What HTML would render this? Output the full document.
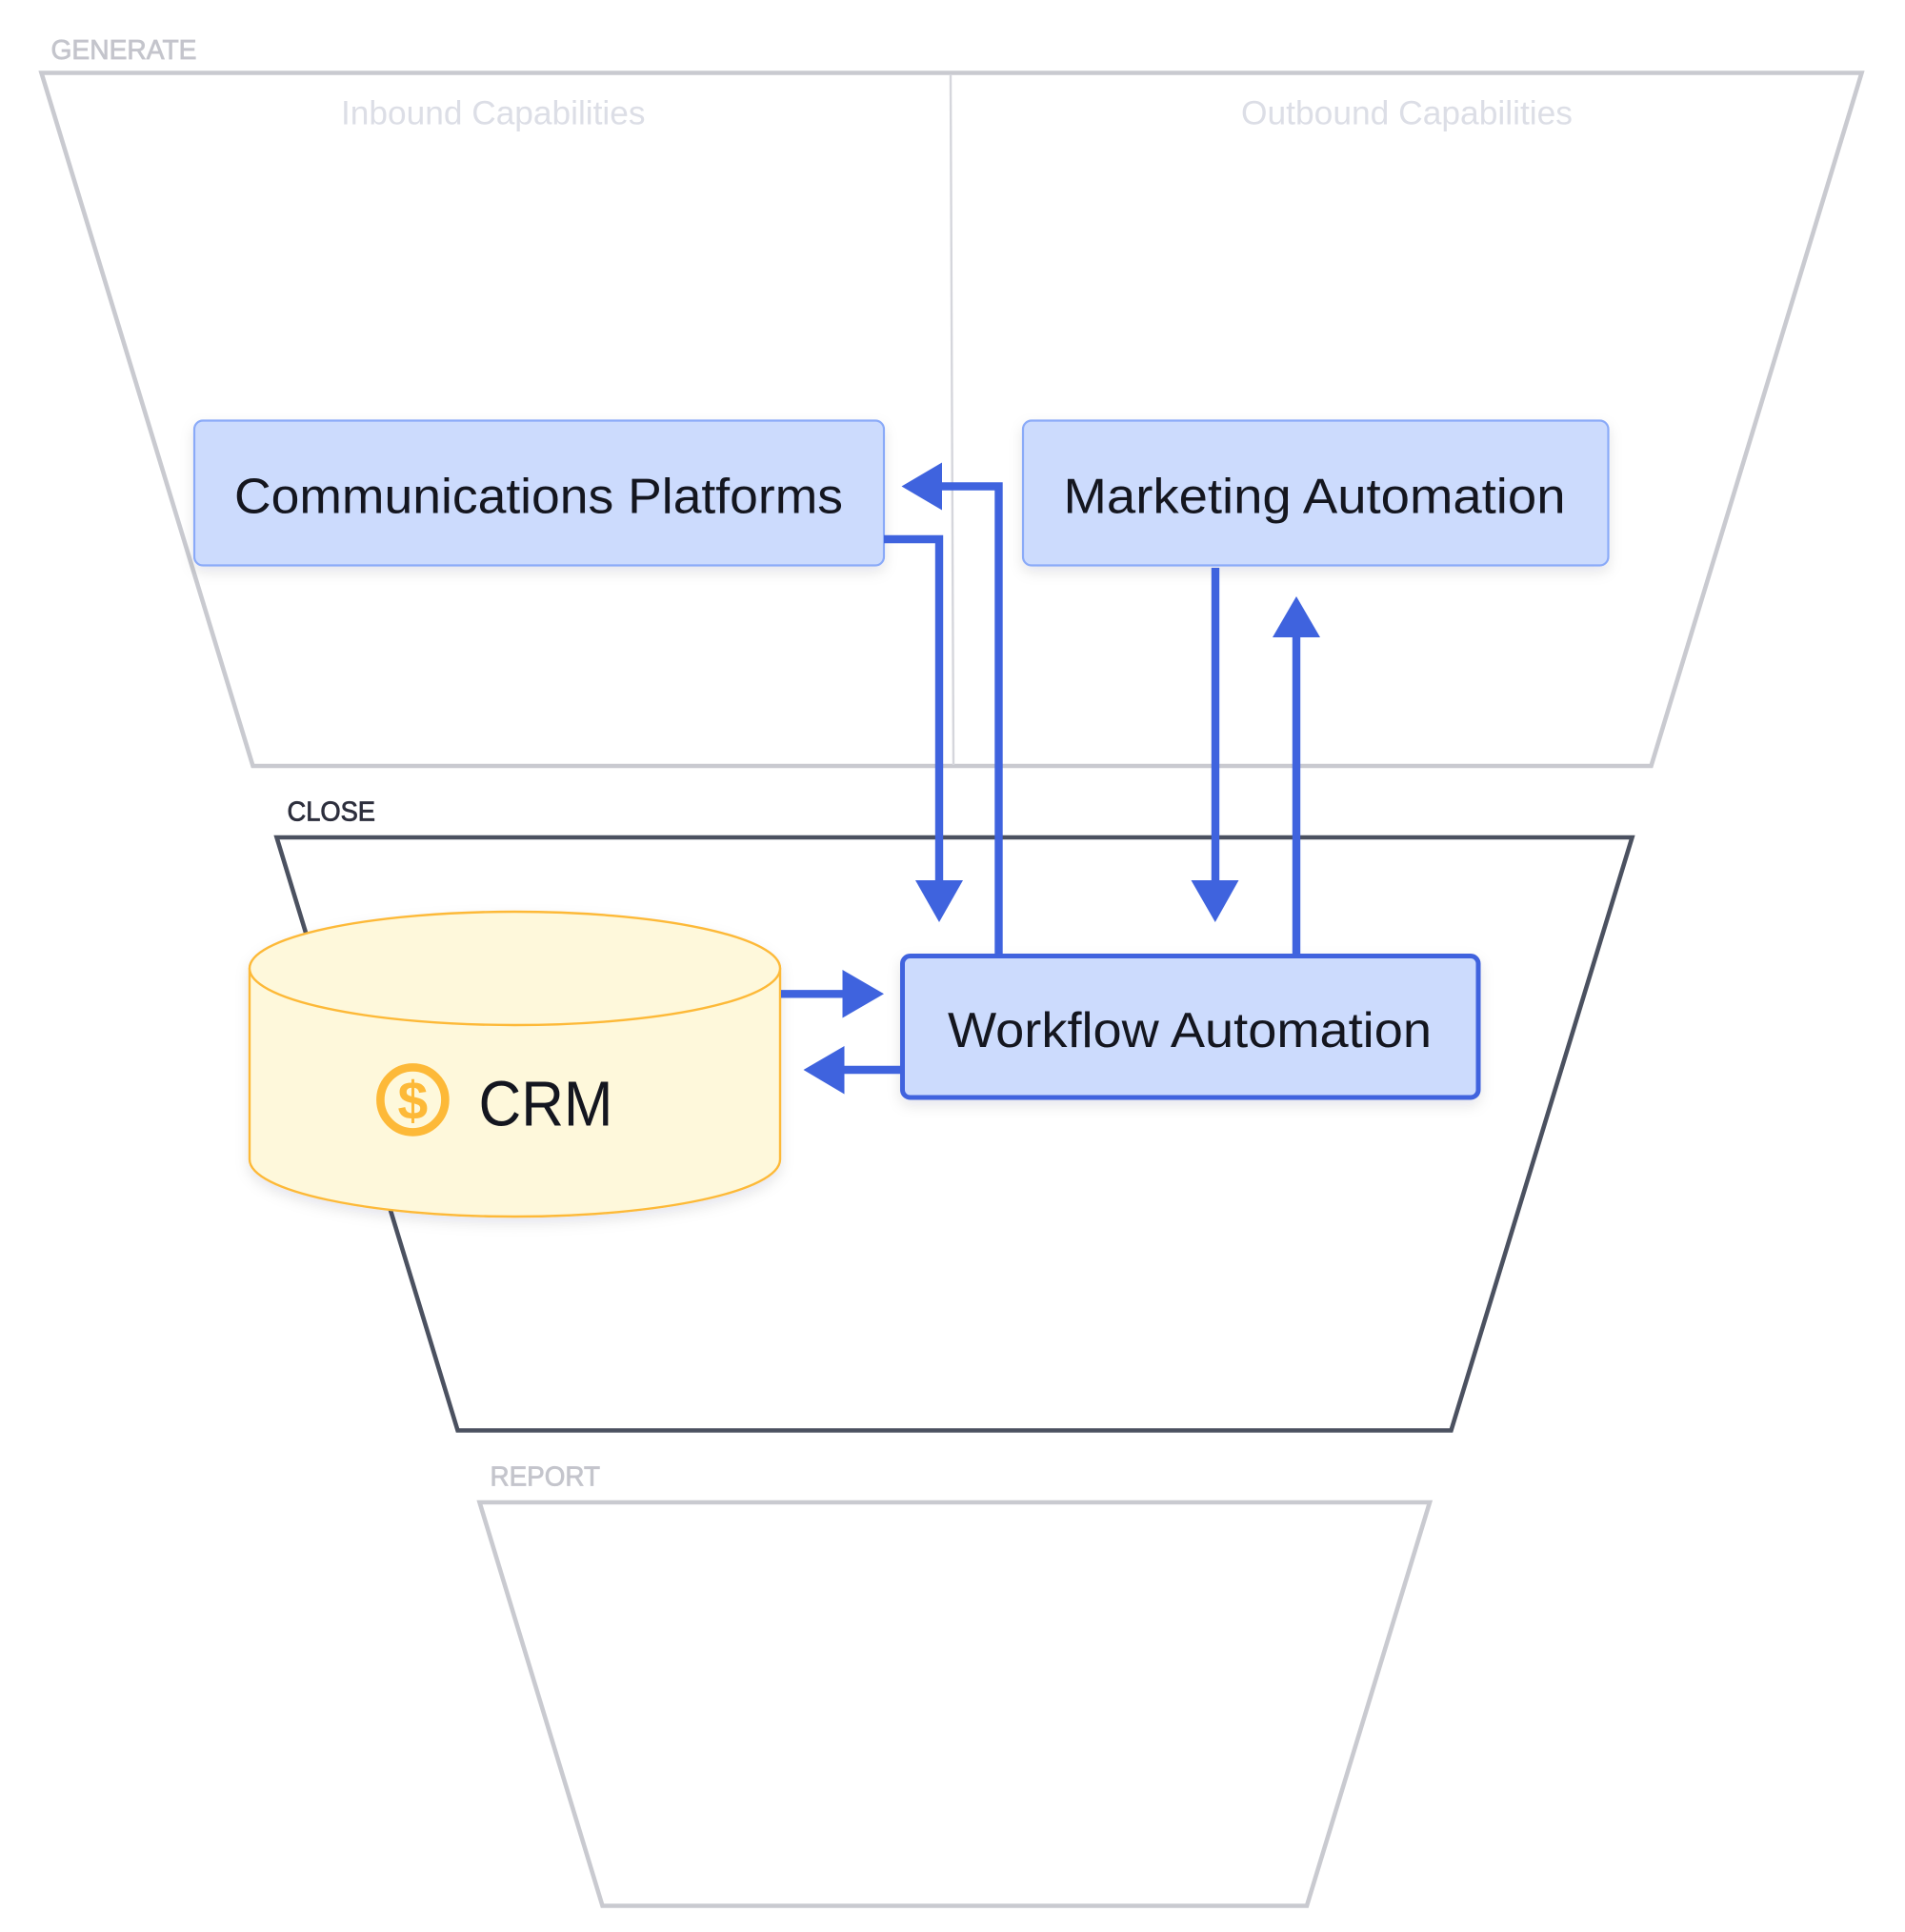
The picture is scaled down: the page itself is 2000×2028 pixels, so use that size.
<!DOCTYPE html>
<html lang="en">
<head>
<meta charset="utf-8">
<title>Funnel diagram</title>
<style>
html,body{margin:0;padding:0;background:#fff;width:2000px;height:2028px;overflow:hidden}
svg{display:block}
text{font-family:"Liberation Sans",sans-serif}
</style>
</head>
<body>
<svg xmlns="http://www.w3.org/2000/svg" width="2000" height="2028" viewBox="0 0 2000 2028">
<defs>
<filter id="sh" x="-10%" y="-20%" width="120%" height="150%">
<feDropShadow dx="0" dy="6" stdDeviation="7" flood-color="#1a2040" flood-opacity="0.10"/>
</filter>
</defs>
<rect width="2000" height="2028" fill="#fff"/>

<!-- funnels -->
<polygon points="43.5,76.5 1954.5,76.5 1733.5,804 265.5,804" fill="none" stroke="#c9cad0" stroke-width="4.6"/>
<line x1="998" y1="78" x2="1001" y2="803" stroke="#d5d6dc" stroke-width="2.4"/>
<polygon points="290.5,879 1713.5,879 1523.5,1501.5 480.5,1501.5" fill="none" stroke="#4b5160" stroke-width="4.6"/>
<polygon points="503.5,1577 1501,1577 1372,2000.5 632.5,2000.5" fill="none" stroke="#c9cad0" stroke-width="4.6"/>

<!-- section labels -->
<text x="53.5" y="62" font-size="29" fill="#c4c5cc" stroke="#c4c5cc" stroke-width="0.8" textLength="153" lengthAdjust="spacingAndGlyphs">GENERATE</text>
<text x="301.5" y="861.5" font-size="29" fill="#2d2f3d" stroke="#2d2f3d" stroke-width="0.8" textLength="92.5" lengthAdjust="spacingAndGlyphs">CLOSE</text>
<text x="514.5" y="1559.5" font-size="29" fill="#c4c5cc" stroke="#c4c5cc" stroke-width="0.8" textLength="115.5" lengthAdjust="spacingAndGlyphs">REPORT</text>
<text x="358" y="130.5" font-size="35" fill="#dcdee6" textLength="319.5" lengthAdjust="spacingAndGlyphs">Inbound Capabilities</text>
<text x="1303" y="130.5" font-size="35" fill="#dcdee6" textLength="348" lengthAdjust="spacingAndGlyphs">Outbound Capabilities</text>

<!-- boxes -->
<rect x="204" y="441.5" width="724" height="152" rx="9" fill="#ccdbfd" stroke="#8aaaf8" stroke-width="2.2" filter="url(#sh)"/>
<rect x="1074" y="441.5" width="614.5" height="152" rx="9" fill="#ccdbfd" stroke="#8aaaf8" stroke-width="2.2" filter="url(#sh)"/>
<rect x="947.5" y="1003.5" width="604.5" height="148.5" rx="8" fill="#ccdbfd" stroke="#3f63de" stroke-width="5" filter="url(#sh)"/>

<text x="246" y="538.5" font-size="52" fill="#14161f" textLength="639" lengthAdjust="spacingAndGlyphs">Communications Platforms</text>
<text x="1116.5" y="538.5" font-size="52" fill="#14161f" textLength="527" lengthAdjust="spacingAndGlyphs">Marketing Automation</text>
<text x="995" y="1099" font-size="52" fill="#14161f" textLength="508" lengthAdjust="spacingAndGlyphs">Workflow Automation</text>

<!-- cylinder -->
<path d="M262 1017 V1217 C262 1250 387 1277 540.5 1277 C694 1277 819 1250 819 1217 V1017 C819 984 694 957.5 540.5 957.5 C387 957.5 262 984 262 1017 Z" fill="#fef8db" stroke="#fdb938" stroke-width="2.4" filter="url(#sh)"/>
<ellipse cx="540.5" cy="1016.5" rx="278.5" ry="59.5" fill="#fef8db" stroke="#fdb938" stroke-width="2.4"/>
<circle cx="433.4" cy="1154.4" r="34" fill="none" stroke="#fdb938" stroke-width="8.6"/>
<text x="433.4" y="1175" font-size="57" font-weight="700" fill="#fdb938" text-anchor="middle">$</text>
<text x="502.5" y="1181.5" font-size="67" fill="#14161f" textLength="141" lengthAdjust="spacingAndGlyphs">CRM</text>

<!-- connectors -->
<g fill="none" stroke="#3f63de" stroke-width="8.4" stroke-linejoin="miter">
<path d="M928 566 H986 V926"/>
<path d="M1048.5 1002 V510.5 H987"/>
<path d="M1276 596 V926"/>
<path d="M1361 1002 V667"/>
<path d="M820 1043.3 H886"/>
<path d="M946 1123 H885"/>
</g>
<g fill="#3f63de">
<polygon points="961,924 1011,924 986,968"/>
<polygon points="989,485.5 989,535.5 946.5,510.5"/>
<polygon points="1250.5,924 1300.5,924 1275.8,968"/>
<polygon points="1336,669 1386,669 1361,626"/>
<polygon points="884.5,1018 884.5,1068.5 928,1043.3"/>
<polygon points="886.5,1098 886.5,1148.5 843.5,1123"/>
</g>
</svg>
</body>
</html>
